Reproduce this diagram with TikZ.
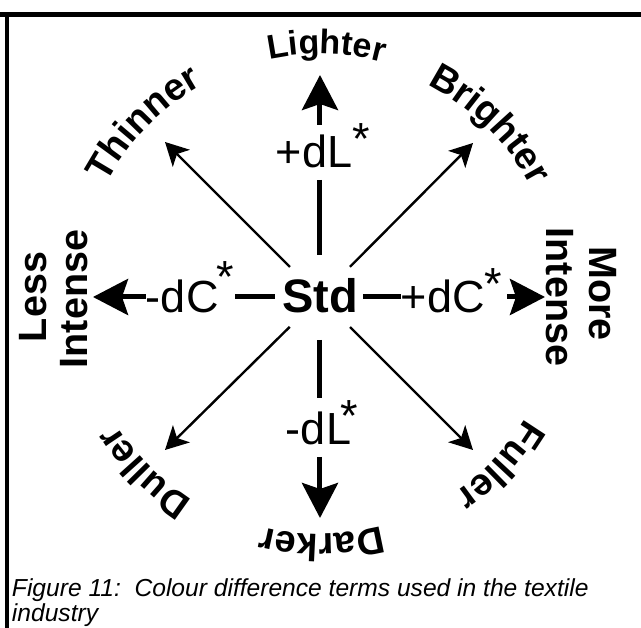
\documentclass[tikz,border=0pt]{standalone}
\usepackage{fontspec}
\setmainfont{Liberation Sans}
\usetikzlibrary{arrows.meta,decorations.text}

% font shortcuts
\newcommand\axisfont{\fontsize{45}{45}\selectfont}
\newcommand\stdfont{\fontsize{47}{47}\selectfont\bfseries}
\newcommand\lblfont{\fontsize{38}{38}\selectfont\bfseries}
\newcommand\lblfontsmall{\fontsize{34}{34}\selectfont\bfseries}
\newcommand\sidefont{\fontsize{39.5}{39.5}\selectfont\bfseries}
\newcommand\capfont{\fontsize{24.6}{25}\selectfont\itshape}
% raised asterisk for the CIE star
\newcommand\upstar[1]{\raisebox{#1}{*}}

\begin{document}
\begin{tikzpicture}[x=1pt,y=1pt,
  framerule/.style={line width=4.5pt},
  axisline/.style={line width=5pt},
  bigarrow/.style={line width=5pt,-{Stealth[length=35pt,width=36pt,inset=6pt]}},
  thinarrow/.style={line width=2.4pt,-{Stealth[length=23pt,width=24pt,inset=6pt]}},
  axistext/.style={inner sep=0pt,outer sep=0pt,font=\axisfont,text height=32pt,text depth=0pt},
  stdtext/.style={inner sep=0pt,outer sep=0pt,font=\stdfont,text height=32pt,text depth=0pt},
  lbltext/.style={inner sep=0pt,outer sep=0pt,font=\sidefont},
  captext/.style={inner sep=0pt,outer sep=0pt,font=\capfont},
  arclabel/.style={decorate,decoration={text along path,text align=center,text={#1}}}
]
\useasboundingbox (-320,-331) rectangle (321,297);

% frame rules
\draw[framerule] (-320,282.5) -- (321,282.5);
\draw[framerule] (-313.2,284.75) -- (-313.2,-331);

% centre and axis terms
\node[stdtext] (std) at (0,0) {Std};
\node[axistext,anchor=base west] (mdc) at (-174,-16) {-dC\kern-2pt\upstar{20pt}};
\node[axistext,anchor=base west] (pdc) at (81,-16) {+dC\upstar{13pt}};
\node[axistext,anchor=base west] (pdl) at (-44,129) {+dL\upstar{13pt}};
\node[axistext,anchor=base west] (mdl) at (-34,-148) {-dL\kern-11pt\upstar{13pt}};

% arrow tips
\coordinate (ut) at (0,222);
\coordinate (dt) at (0,-221);
\coordinate (lt) at (-227,0);
\coordinate (rt) at (225,0);
\coordinate (tTh) at (-155,155);
\coordinate (tBr) at (153,154);
\coordinate (tDu) at (-155,-153);
\coordinate (tFu) at (153,-153);

% horizontal axis
\draw[bigarrow] (mdc.west) -- (lt);
\draw[axisline,shorten <=1pt,shorten >=7pt] (mdc.east) -- (std.west);
\draw[axisline,shorten <=5pt] (std.east) -- (pdc.west);
\draw[bigarrow,shorten <=5pt] (pdc.east) -- (rt);

% vertical axis
\draw[bigarrow,shorten <=11pt] (std |- pdl.north) -- (ut);
\draw[axisline,shorten <=12pt,shorten >=26pt] (std |- pdl.south) -- (std.north);
\draw[axisline,shorten <=27pt,shorten >=15pt] (std.south) -- (std |- mdl.north);
\draw[bigarrow,shorten <=12pt] (std |- mdl.south) -- (dt);

% diagonal arrows
\draw[thinarrow,shorten <=42.5pt] (std.center) -- (tTh);
\draw[thinarrow,shorten <=42.5pt] (std.center) -- (tBr);
\draw[thinarrow,shorten <=42.5pt] (std.center) -- (tDu);
\draw[thinarrow,shorten <=42.5pt] (std.center) -- (tFu);

% curved direction labels
\path[arclabel={|\lblfontsmall|Lighter}] (148.5:243pt) arc[start angle=148.5,end angle=28.5,radius=243pt];
\path[arclabel={|\lblfont|Brighter}] (105.5:238pt) arc[start angle=105.5,end angle=-14.5,radius=238pt];
\path[arclabel={|\lblfont|Fuller}] (17:238pt) arc[start angle=17,end angle=-103,radius=238pt];
\path[arclabel={|\lblfont|Darker}] (-29.5:237pt) arc[start angle=-29.5,end angle=-149.5,radius=237pt];
\path[arclabel={|\lblfont|Duller}] (285:240pt) arc[start angle=285,end angle=165,radius=240pt];
\path[arclabel={|\lblfont|Thinner}] (195.5:242pt) arc[start angle=195.5,end angle=75.5,radius=242pt];

% side labels
\node[lbltext,rotate=90,anchor=base] (less) at (-273,0) {Less};
\node[lbltext,rotate=90,anchor=base] (lessint) at (-232,-2) {Intense};
\node[lbltext,rotate=-90,anchor=base] (more) at (270,3.5) {More};
\node[lbltext,rotate=-90,anchor=base] (moreint) at (227,0) {Intense};

% caption
\node[captext,anchor=base west] (cap1) at (-308,-300) {Figure 11:\ \ Colour difference terms used in the textile};
\node[captext,anchor=base west] (cap2) at (-308,-325) {industry};
\end{tikzpicture}
\end{document}
